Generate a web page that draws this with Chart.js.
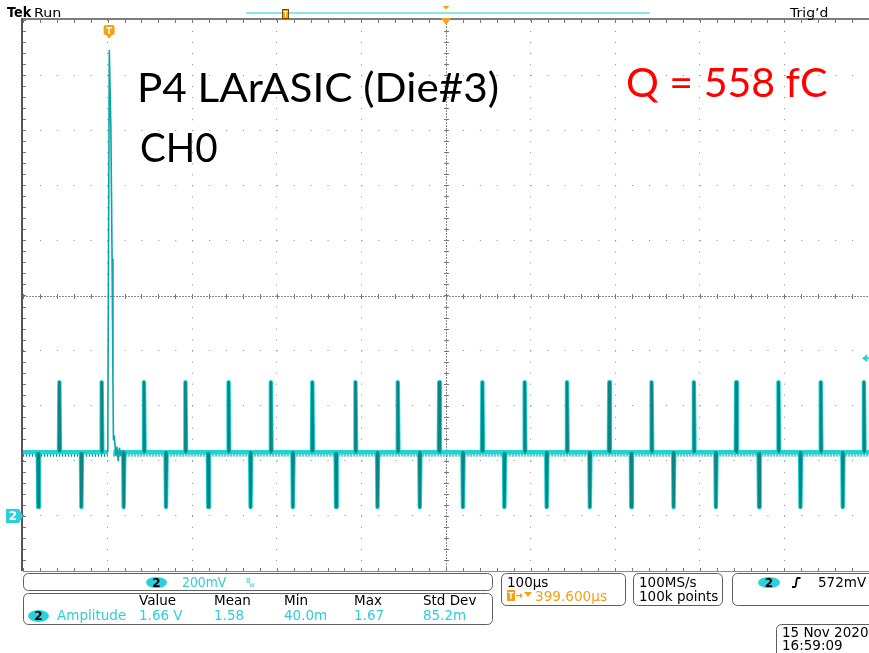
<!DOCTYPE html>
<html>
<head>
<meta charset="utf-8">
<script src="https://cdn.jsdelivr.net/npm/chart.js@4.4.1/dist/chart.umd.min.js"></script>
<style>
html, body { margin: 0; padding: 0; background: #fff; overflow: hidden; }
canvas { display: block; }
</style>
</head>
<body>
<canvas id="scope" width="869" height="653"></canvas>
<script>
// trace: time in µs from trigger, level in V
const baseLevel = 0.231;
const noiseLevel = 0.222;
const spikeHigh = 0.485;
const spikeLow = 0.032;
const posSpikeTimes = [-57, -7, 43, 92, 143, 193, 242, 293, 343, 392, 443, 493, 543, 593, 643, 693, 743, 793, 843, 894];
const negSpikeTimes = [-82, -31, 19, 69, 119, 169, 219, 270, 319, 369, 420, 469, 519, 570, 619, 669, 719, 770, 819, 869];
const pulseTimes = [0.2, 2.0, 3.9, 5.3, 6.3, 6.9, 8.0, 9.5, 11, 12.5, 14, 16, 18, 21];
const pulseVolts = [0.231, 1.689, 1.402, 0.931, 0.495, 0.277, 0.29, 0.22, 0.25, 0.20, 0.245, 0.22, 0.237, 0.231];
const baseTimes = [-100, 0.3, 0.3, 7, 900];

// screen readouts
const measHeaders = ['Value', 'Mean', 'Min', 'Max', 'Std Dev'];
const measValues = ['1.66 V', '1.58', '40.0m', '1.67', '85.2m'];
const measCols = [139, 214, 284, 354, 423];

const CYAN = '#1fd4d4';
const TEAL = '#0b8585';
const TXT_CYAN = '#2ccfda';
const ORANGE = '#f6a01a';

function spikePoints(times, peak) {
    const pts = [];
    times.forEach(t => {
        pts.push({x: t - 0.5, y: baseLevel});
        pts.push({x: t, y: peak});
        pts.push({x: t + 0.8, y: baseLevel});
        pts.push({x: t + 0.8, y: null});
    });
    return pts;
}

function basePoints(level) {
    return baseTimes.map((t, i) => ({x: t, y: i === 2 ? null : level}));
}

const pulsePts = pulseTimes.map((t, i) => ({x: t, y: pulseVolts[i]}));

function near(a, b) { return Math.abs(a - b) < 1e-6; }

// text squeezed to the width measured on the reference
function fitText(ctx, txt, x, base, width, font, color) {
    ctx.save();
    ctx.font = font;
    const m = ctx.measureText(txt);
    const ink = m.actualBoundingBoxRight + m.actualBoundingBoxLeft;
    const s = width / ink;
    ctx.translate(x + m.actualBoundingBoxLeft * s, base);
    ctx.scale(s, 1);
    ctx.fillStyle = color;
    ctx.textBaseline = 'alphabetic';
    ctx.fillText(txt, 0, 0);
    ctx.restore();
}

function roundBox(ctx, x1, y1, x2, y2) {
    ctx.save();
    ctx.strokeStyle = '#5e5e5e';
    ctx.lineWidth = 1;
    ctx.beginPath();
    ctx.roundRect(x1 + 0.5, y1 + 0.5, x2 - x1, y2 - y1, 5);
    ctx.stroke();
    ctx.restore();
}

function badge(ctx, cx, cy, rx, ry) {
    ctx.save();
    ctx.fillStyle = TXT_CYAN;
    ctx.beginPath();
    ctx.ellipse(cx, cy, rx, ry, 0, 0, Math.PI * 2);
    ctx.fill();
    ctx.fillStyle = '#000';
    ctx.font = 'bold 12px "DejaVu Sans"';
    ctx.textAlign = 'center';
    ctx.textBaseline = 'middle';
    ctx.fillText('2', cx, cy + 1);
    ctx.restore();
}

const screenPlugin = {
    id: 'screen',
    beforeDatasetsDraw(chart) {
        const {ctx, chartArea: a, scales: {x, y}} = chart;
        ctx.save();
        // centre cross
        const cx = Math.round(x.getPixelForValue(400)) + 0.5;
        const cy = Math.round(y.getPixelForValue(0.8)) + 0.5;
        ctx.strokeStyle = '#8a8a8a';
        ctx.lineWidth = 1;
        ctx.setLineDash([2, 1]);
        ctx.beginPath();
        ctx.moveTo(a.left, cy); ctx.lineTo(a.right, cy);
        ctx.moveTo(cx, a.top); ctx.lineTo(cx, a.bottom);
        ctx.stroke();
        ctx.setLineDash([]);
        ctx.fillStyle = '#777';
        for (let t = -100; t <= 900; t += 20) {
            const px = Math.round(x.getPixelForValue(t));
            ctx.fillRect(px, cy - 2.5, 1, 5);
            ctx.fillRect(px, a.top, 1, 3);
            ctx.fillRect(px, a.bottom - 3, 1, 3);
        }
        for (let v = -0.2; v <= 1.81; v += 0.04) {
            const py = Math.round(y.getPixelForValue(v));
            ctx.fillRect(cx - 2.5, py, 5, 1);
            ctx.fillRect(a.left, py, 3, 1);
        }
        // frame
        ctx.fillStyle = '#7d7d7d';
        ctx.fillRect(a.left - 1, a.top - 2, a.right - a.left + 1, 2);
        ctx.fillStyle = '#555';
        ctx.fillRect(a.left - 2, a.top - 2, 2, a.bottom - a.top + 2);
        ctx.fillStyle = '#8a8a8a';
        ctx.fillRect(a.left, a.bottom, a.right - a.left, 1);
        ctx.restore();
    },
    afterDraw(chart) {
        const {ctx, scales: {x, y}} = chart;
        ctx.save();

        // annotations
        fitText(ctx, 'P4 LArASIC (Die#3)', 140, 102, 358, '41px Lato', '#000');
        fitText(ctx, 'CH0', 141, 162, 76, '41px Lato', '#000');
        fitText(ctx, 'Q = 558 fC', 627, 97, 200, '41px Lato', '#ff0000');

        // top status line
        fitText(ctx, 'Tek', 7, 17, 25, 'bold 14px "DejaVu Sans"', '#000');
        fitText(ctx, 'Run', 35, 17, 26, '13px "DejaVu Sans"', '#000');
        fitText(ctx, 'Trig\u2019d', 789, 17, 39, '13px "DejaVu Sans"', '#000');
        ctx.fillStyle = '#86e6ee';
        ctx.fillRect(246, 12, 404, 2);
        ctx.fillStyle = ORANGE;
        ctx.strokeStyle = '#7a4a00';
        ctx.lineWidth = 1;
        ctx.fillRect(282, 9, 7, 10);
        ctx.strokeRect(282.5, 9.5, 6, 9);
        ctx.fillStyle = '#fff';
        ctx.fillRect(283.5, 11, 4, 1.2);
        ctx.fillRect(285, 11, 1.2, 6);

        // trigger position / expansion markers
        const tx = x.getPixelForValue(400);
        ctx.fillStyle = ORANGE;
        ctx.beginPath();
        ctx.moveTo(tx - 3.5, 6); ctx.lineTo(tx + 3.5, 6); ctx.lineTo(tx, 9.5); ctx.closePath(); ctx.fill();
        ctx.beginPath();
        ctx.moveTo(tx - 5, 18); ctx.lineTo(tx + 5, 18); ctx.lineTo(tx, 25); ctx.closePath(); ctx.fill();

        // T marker over trigger point
        const t0 = x.getPixelForValue(0) + 1.5;
        ctx.fillStyle = ORANGE;
        ctx.beginPath();
        ctx.roundRect(t0 - 5.5, 25, 11, 10, 2);
        ctx.fill();
        ctx.beginPath();
        ctx.moveTo(t0 - 4, 34); ctx.lineTo(t0 + 4, 34); ctx.lineTo(t0, 38.5); ctx.closePath(); ctx.fill();
        ctx.fillStyle = '#fff';
        ctx.fillRect(t0 - 3, 27, 6, 1.5);
        ctx.fillRect(t0 - 0.75, 27, 1.5, 7);

        // ground marker for channel 2
        const gy = y.getPixelForValue(0);
        ctx.fillStyle = TXT_CYAN;
        ctx.beginPath();
        ctx.moveTo(6, gy - 7); ctx.lineTo(19, gy - 7); ctx.lineTo(23, gy); ctx.lineTo(19, gy + 7); ctx.lineTo(6, gy + 7);
        ctx.closePath(); ctx.fill();
        ctx.fillStyle = '#fff';
        ctx.font = 'bold 12px "DejaVu Sans"';
        ctx.textAlign = 'center';
        ctx.textBaseline = 'middle';
        ctx.fillText('2', 13, gy + 1);
        ctx.textAlign = 'left';
        ctx.textBaseline = 'alphabetic';

        // trigger level arrow at right edge
        const ly = y.getPixelForValue(0.572);
        ctx.fillStyle = TXT_CYAN;
        ctx.beginPath();
        ctx.moveTo(862, ly); ctx.lineTo(867, ly - 4); ctx.lineTo(867, ly + 4); ctx.closePath(); ctx.fill();
        ctx.fillRect(866, ly - 1, 4, 2);

        // readout boxes
        roundBox(ctx, 23, 573, 492, 590);
        roundBox(ctx, 23, 593, 492, 624);
        roundBox(ctx, 501, 573, 625, 605);
        roundBox(ctx, 633, 573, 722, 605);
        roundBox(ctx, 732, 573, 880, 605);
        roundBox(ctx, 776, 624, 880, 665);

        const F = '13.5px "DejaVu Sans"';
        badge(ctx, 156.5, 582.5, 10.5, 5.5);
        fitText(ctx, '200mV', 182, 587, 45, F, TXT_CYAN);
        ctx.fillStyle = TXT_CYAN;
        ctx.font = '7px "DejaVu Sans"';
        ctx.fillText('B', 246, 583);
        ctx.fillText('w', 249, 587);

        ctx.font = F;
        measHeaders.forEach((h, i) => {
            ctx.fillStyle = '#000';
            ctx.fillText(h, measCols[i], 605);
        });
        badge(ctx, 38.5, 616, 10.5, 6);
        ctx.font = F;
        ctx.fillStyle = TXT_CYAN;
        ctx.fillText('Amplitude', 57, 620);
        measValues.forEach((v, i) => {
            ctx.fillText(v, measCols[i], 620);
        });

        ctx.fillStyle = '#000';
        ctx.fillText('100\u00b5s', 507, 587);
        ctx.fillStyle = ORANGE;
        ctx.fillRect(507, 590, 8, 11);
        ctx.fillStyle = '#fff';
        ctx.fillRect(508.5, 592, 5, 1.3);
        ctx.fillRect(510.4, 592, 1.3, 7);
        ctx.fillStyle = ORANGE;
        ctx.fillRect(516, 595, 5, 1.3);
        ctx.beginPath();
        ctx.moveTo(520, 593); ctx.lineTo(523, 595.6); ctx.lineTo(520, 598.2); ctx.closePath(); ctx.fill();
        ctx.beginPath();
        ctx.moveTo(524, 592); ctx.lineTo(532, 592); ctx.lineTo(528, 597); ctx.closePath(); ctx.fill();
        fitText(ctx, '399.600\u00b5s', 536, 601, 71, F, ORANGE);

        ctx.font = F;
        ctx.fillStyle = '#000';
        ctx.fillText('100MS/s', 639, 587);
        ctx.fillText('100k points', 639, 601);

        badge(ctx, 769, 582.5, 11, 5.5);
        ctx.strokeStyle = '#000';
        ctx.lineWidth = 1.8;
        ctx.beginPath();
        ctx.moveTo(792, 587); ctx.lineTo(795, 587);
        ctx.bezierCurveTo(796.5, 587, 796, 578, 797.5, 578);
        ctx.lineTo(800.5, 578);
        ctx.stroke();
        ctx.font = F;
        ctx.fillStyle = '#000';
        ctx.fillText('572mV', 818, 587);

        ctx.fillText('15 Nov 2020', 782, 637);
        ctx.fillText('16:59:09', 782, 650);

        ctx.restore();
    }
};

const edgeValues = {x: [-100, 400, 900], y: [-0.2, 0.8, 1.8]};

// first dataset is drawn on top
new Chart(document.getElementById('scope'), {
    type: 'line',
    data: {
        datasets: [
            {data: pulsePts, borderColor: '#0aa6a6', borderWidth: 1.6, pointRadius: 0},
            {data: spikePoints(posSpikeTimes, spikeHigh), borderColor: TEAL, borderWidth: 2.6, pointRadius: 0, spanGaps: false},
            {data: spikePoints(negSpikeTimes, spikeLow), borderColor: TEAL, borderWidth: 2.6, pointRadius: 0, spanGaps: false},
            {data: basePoints(baseLevel), borderColor: CYAN, borderWidth: 4.5, pointRadius: 0, spanGaps: false},
            {data: spikePoints(posSpikeTimes, spikeHigh), borderColor: CYAN, borderWidth: 4.4, pointRadius: 0, spanGaps: false},
            {data: spikePoints(negSpikeTimes, spikeLow), borderColor: CYAN, borderWidth: 4.4, pointRadius: 0, spanGaps: false},
            {data: basePoints(noiseLevel), borderColor: TEAL, borderWidth: 4, borderDash: [1, 2], pointRadius: 0, spanGaps: false}
        ]
    },
    options: {
        responsive: false,
        animation: false,
        events: [],
        devicePixelRatio: 1,
        layout: {padding: {left: 23, top: 20, right: 0, bottom: 82}},
        elements: {line: {tension: 0, borderJoinStyle: 'round'}},
        plugins: {legend: {display: false}, tooltip: {enabled: false}},
        scales: {
            x: {
                type: 'linear', min: -100, max: 900,
                ticks: {display: false, stepSize: 100},
                grid: {
                    drawTicks: false, lineWidth: 1,
                    color: c => edgeValues.x.some(v => near(v, c.tick.value)) ? 'rgba(0,0,0,0)' : '#8c8c8c'
                },
                border: {display: false, dash: [1, 10.02]}
            },
            y: {
                type: 'linear', min: -0.2, max: 1.8,
                ticks: {display: false, stepSize: 0.2},
                grid: {
                    drawTicks: false, lineWidth: 1,
                    color: c => edgeValues.y.some(v => near(v, c.tick.value)) ? 'rgba(0,0,0,0)' : '#8c8c8c'
                },
                border: {display: false, dash: [1, 15.92]}
            }
        }
    },
    plugins: [screenPlugin]
});
</script>
</body>
</html>
